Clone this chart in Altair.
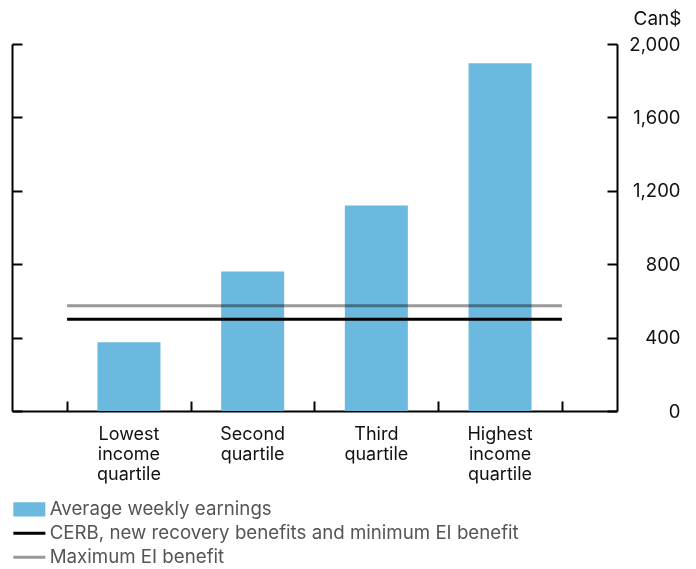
import altair as alt
import pandas as pd

categories = ["Lowest\nincome\nquartile", "Second\nquartile", "Third\nquartile", "Highest\nincome\nquartile"]
positions = [1, 2, 3, 4]
earnings = [375, 760, 1120, 1895]
series_names = [
    "Average weekly earnings",
    "CERB, new recovery benefits and minimum EI benefit",
    "Maximum EI benefit",
]
benefit_values = [500, 573]
band_edges = [0.5, 4.5]
y_ticks = [0, 400, 800, 1200, 1600, 2000]
x_ticks = [0.5, 1.5, 2.5, 3.5, 4.5]
colors = ["#6BB9DF", "#000000", "#999999"]

W, H = 605, 367
FONT = "Inter"

bars_df = pd.DataFrame({"pos": positions, "label": categories, "value": earnings,
                        "series": series_names[0]})
rules_df = pd.DataFrame({"series": series_names[1:], "value": benefit_values,
                         "start": band_edges[0], "end": band_edges[1]})

xscale = alt.Scale(domain=[0.095, 4.905], nice=False, zero=False)
yscale = alt.Scale(domain=[0, 2000], nice=False)
xaxis = alt.Axis(orient="top", offset=-H, values=x_ticks, labels=False, title=None,
                 tickSize=10, tickWidth=2, tickColor="black", domainWidth=2,
                 domainColor="black", grid=False)

first = series_names[0]
legend = alt.Legend(
    title=None, orient="none", legendX=8, legendY=456, direction="vertical",
    symbolType={"expr": f"datum.value == '{first}' ? 'M-2,-0.9H2V0.9H-2Z' : 'M-2,0H2'"},
    symbolSize=256,
    symbolStrokeWidth={"expr": f"datum.value == '{first}' ? 0 : 3"},
    symbolFillColor={"expr": f"datum.value == '{first}' ? '#6BB9DF' : 'transparent'"},
    symbolStrokeColor={"expr": "scale('color', datum.value)"},
    symbolOpacity=1,
    labelFont=FONT, labelFontSize=18.7, labelColor="#555555", labelOffset=11,
    rowPadding=4, labelLimit=0,
)
color = alt.Color("series:N", scale=alt.Scale(domain=series_names, range=colors), legend=legend)

axis_a = alt.Axis(orient="right", values=y_ticks, format=",.0f", ticks=False, tickSize=0,
                  labelPadding=63, labelAlign="right", labelBaseline="middle",
                  labelFont=FONT, labelFontSize=18.5, labelColor="#111111",
                  domainWidth=2, domainColor="black", grid=False,
                  title="Can$", titleAngle=0, titleAlign="right", titleBaseline="middle",
                  titleX=64, titleY=-26, titleFont=FONT, titleFontSize=19,
                  titleFontWeight="normal", titleColor="#111111")
axis_b = alt.Axis(orient="left", offset=-W, values=y_ticks, labels=False, domain=False,
                  tickSize=10, tickWidth=2, tickColor="black", title=None, grid=False)
axis_c = alt.Axis(orient="right", offset=-W, values=y_ticks, labels=False, domain=True,
                  domainWidth=2, domainColor="black", tickSize=10, tickWidth=2,
                  tickColor="black", title=None, grid=False)

bars = alt.Chart(bars_df).mark_bar(size=63).encode(
    x=alt.X("pos:Q", scale=xscale, axis=xaxis),
    y=alt.Y("value:Q", scale=yscale, axis=axis_a),
    color=color,
)

rules = alt.Chart(rules_df).mark_rule(strokeWidth=3, blend="multiply").encode(
    x=alt.X("start:Q", scale=xscale, axis=xaxis),
    x2="end:Q",
    y=alt.Y("value:Q", scale=yscale, axis=axis_b),
    color=color,
)

labels = alt.Chart(bars_df).mark_text(
    baseline="top", dy=15, lineBreak="\n", font=FONT, fontSize=18, lineHeight=20,
    color="#111111", align="center",
).encode(
    x=alt.X("pos:Q", scale=xscale, axis=xaxis),
    y=alt.YDatum(0, type="quantitative", scale=yscale, axis=axis_c),
    text="label:N",
)

chart = alt.layer(bars, rules, labels).resolve_axis(y="independent").properties(
    width=W, height=H,
    autosize=alt.AutoSizeParams(type="none"),
    padding={"left": 4, "top": 36, "right": 71, "bottom": 158},
).configure_view(stroke=None)

chart.save("out.html", embed_options={"renderer": "svg", "actions": False})
